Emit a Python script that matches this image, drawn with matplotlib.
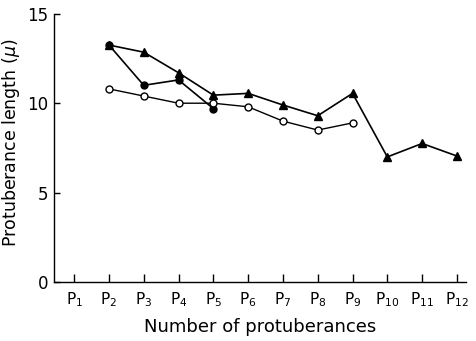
import matplotlib
matplotlib.use("Agg")
import matplotlib.pyplot as plt

# protuberance length (micron) per protuberance position
tri_pos = [2, 3, 4, 5, 6, 7, 8, 9, 10, 11, 12]
tri_len = [13.25, 12.85, 11.7, 10.45, 10.55, 9.9, 9.3, 10.55, 7.0, 7.75, 7.05]

dot_pos = [2, 3, 4, 5]
dot_len = [13.25, 11.0, 11.3, 9.7]

ring_pos = [2, 3, 4, 5, 6, 7, 8, 9]
ring_len = [10.8, 10.4, 10.0, 10.0, 9.8, 9.0, 8.5, 8.9]

tick_pos = list(range(1, 13))
tick_labels = ["P$_{%d}$" % i for i in tick_pos]
y_ticks = [0, 5, 10, 15]

plt.rcParams['font.family'] = ['DejaVu Sans']
plt.rcParams['mathtext.fontset'] = 'dejavusans'

fig = plt.figure(figsize=(4.76, 3.41), dpi=100)
ax = fig.add_axes([0.1134, 0.1724, 0.8655, 0.7874])

ax.plot(tri_pos, tri_len, color='black', lw=1.2, marker='^', ms=5.5, zorder=2)
ax.plot(dot_pos, dot_len, color='black', lw=1.2, marker='o', ms=5, zorder=3)
ax.plot(ring_pos, ring_len, color='black', lw=1.0, marker='o', ms=5,
        markerfacecolor='white', markeredgewidth=1.0, zorder=4)

ax.set_xlim(0.42, 12.26)
ax.set_ylim(0, 15)
ax.set_xticks(tick_pos)
ax.set_xticklabels(tick_labels, fontsize=11)
ax.set_yticks(y_ticks)
ax.set_yticklabels([str(v) for v in y_ticks], fontsize=12)

ax.spines['top'].set_visible(False)
ax.spines['right'].set_visible(False)
ax.spines['left'].set_linewidth(1.0)
ax.spines['bottom'].set_linewidth(1.0)
ax.tick_params(axis='x', direction='in', length=6, width=1.0, pad=6)
ax.tick_params(axis='y', direction='in', length=4, width=1.0, pad=4)

ax.set_xlabel("Number of protuberances", fontsize=13, labelpad=6)
ax.set_ylabel("Protuberance length ($\\mu$)", fontsize=12.5)
ax.yaxis.set_label_coords(-0.078, 0.52)

fig.savefig("out.png", dpi=100)
